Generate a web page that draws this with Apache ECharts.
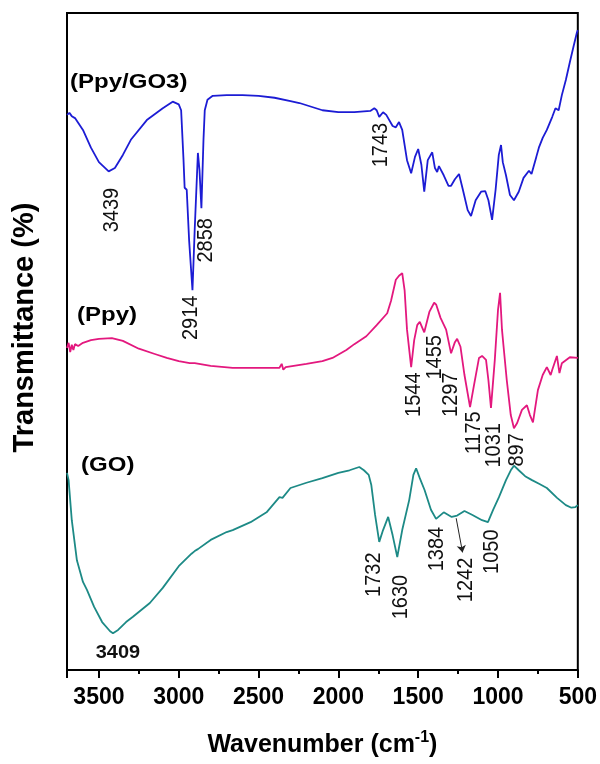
<!DOCTYPE html>
<html>
<head>
<meta charset="utf-8">
<title>FTIR</title>
<script src="https://cdn.jsdelivr.net/npm/echarts@6/dist/echarts.min.js"></script>
<style>
html,body{margin:0;padding:0;background:#fff;}
#chart{width:600px;height:764px;}
</style>
</head>
<body>
<div id="chart"></div>
<script>
// x ticks
var xTicks = [3500, 3000, 2500, 2000, 1500, 1000, 500];

// (Ppy/GO3)
var wnGO3 = [3700,3685,3670,3650,3600,3550,3500,3439,3400,3350,3300,3200,3100,3038,3000,2985,2970,2963,2950,2935,2914,2900,2880,2870,2858,2845,2837,2820,2787,2700,2600,2500,2400,2300,2244,2100,2000,1900,1800,1775,1760,1744,1720,1700,1660,1640,1620,1600,1570,1544,1520,1500,1480,1462,1440,1412,1395,1381,1370,1340,1310,1294,1270,1244,1220,1190,1169,1140,1106,1080,1060,1037,1015,995,981,970,962,950,925,900,870,840,806,790,760,744,720,694,660,640,631,620,600,575,550,525,506,500];
var tGO3 = [84.5,84.8,84.3,84.0,82.2,79.5,77.3,75.9,76.4,78.4,80.7,83.7,85.5,86.5,86.1,85.2,77.6,73.4,73.1,65.4,57.8,67.0,78.7,76.1,70.3,80.7,85.2,86.8,87.4,87.5,87.5,87.4,87.1,86.6,86.3,85.2,84.9,84.9,85.1,85.5,85.2,84.2,84.9,84.5,82.8,82.6,83.4,82.2,77.6,75.6,78.1,79.3,76.9,72.8,77.6,78.8,76.4,75.8,76.7,75.3,73.7,73.7,74.7,75.5,73.1,70.0,69.1,71.5,72.8,72.9,71.5,68.5,73.1,78.4,79.9,77.3,77.2,75.3,72.3,71.5,72.8,74.9,76.0,75.5,78.1,79.5,81.0,82.2,84.2,85.5,85.7,85.2,87.5,89.8,92.5,95.1,97.0,97.4];

// (Ppy)
var wnPpy = [3700,3690,3680,3670,3660,3650,3630,3600,3550,3500,3419,3350,3250,3150,3075,3000,2931,2920,2900,2800,2662,2500,2369,2355,2345,2330,2200,2100,2037,1950,1900,1825,1760,1694,1670,1640,1620,1600,1585,1570,1544,1525,1506,1490,1462,1430,1400,1387,1360,1325,1294,1270,1256,1235,1210,1175,1150,1119,1100,1075,1060,1044,1020,1000,987,975,965,945,920,900,880,850,819,800,781,750,720,694,670,660,631,615,600,550,500];
var tPpy = [49.0,49.8,48.4,49.5,48.7,49.6,49.3,49.8,50.2,50.4,50.5,50.1,48.9,48.1,47.5,47.0,46.7,47.0,46.7,46.3,46.0,46.0,46.0,46.6,45.7,46.1,46.6,47.0,47.5,48.7,49.6,50.8,52.5,54.3,56.2,59.4,60.0,60.4,57.8,51.8,46.1,50.2,52.5,53.0,51.4,54.5,55.9,55.6,53.6,51.8,48.2,49.9,50.4,49.2,44.9,40.0,43.4,47.5,47.8,47.2,44.1,39.9,47.2,54.8,57.4,51.8,49.2,44.1,38.8,36.8,37.6,39.6,40.3,38.8,37.7,42.6,44.9,46.1,44.9,45.7,47.8,45.2,46.7,47.6,47.5];

// (GO)
var wnGO = [3700,3690,3670,3638,3600,3575,3530,3480,3430,3412,3380,3330,3287,3181,3100,3000,2920,2900,2880,2869,2800,2700,2662,2550,2450,2369,2350,2300,2200,2100,2000,1930,1869,1840,1810,1794,1770,1744,1720,1688,1660,1631,1600,1556,1530,1513,1490,1460,1420,1388,1340,1290,1256,1210,1160,1100,1063,1030,994,950,920,900,870,830,787,740,694,630,575,540,515,500];
var tGO = [30.0,28.9,22.8,16.7,13.4,12.2,9.6,7.3,5.9,5.6,6.1,7.3,8.1,10.2,12.5,15.8,17.7,18.1,18.4,18.6,19.8,21.0,21.3,22.5,24.0,26.3,26.2,27.7,28.5,29.2,30.0,30.4,30.9,30.4,29.7,28.2,23.6,19.5,21.3,23.3,20.5,17.2,21.3,25.9,29.7,30.7,29.2,27.4,24.4,23.0,24.0,23.3,23.5,24.2,23.6,22.8,22.5,24.4,26.3,28.9,30.4,31.1,30.4,29.5,28.9,28.3,27.7,26.2,25.1,24.7,24.8,25.1];

// peak labels (rotated), anchor = label centre
var peakText = ['3439','2914','2858','1743','1544','1455','1297','1175','1031','897','1732','1630','1384','1242','1050'];
var peakWn   = [3418,2925,2831,1731,1525,1394,1294,1150,1025,881,1775,1606,1381,1200,1037];
var peakT    = [70.0,53.6,65.4,79.9,41.9,47.6,41.9,36.1,34.2,33.5,14.5,11.1,18.4,13.7,18.0];

// sample names, anchor = left/middle
var nameText = ['(Ppy/GO3)','(Ppy)','(GO)'];
var nameWn   = [3681,3637,3612];
var nameT    = [89.5,54.0,31.2];

function pairs(xs, ys){
	var out = [];
	for(var i=0;i<xs.length;i++){
		out.push([xs[i], ys[i]]);
	}
	return out;
}

var myChart = echarts.init(document.getElementById('chart'));
var font = 'Liberation Sans, Arial, sans-serif';

myChart.setOption({
	animation:false,
	grid:{
		left:67, right:21, top:13, bottom:94,
		show:true, borderColor:'#000', borderWidth:2
	},
	xAxis:[{
		type:'value', min:500, max:3700, interval:500, inverse:true,
		splitLine:{show:false},
		axisLine:{lineStyle:{color:'#000', width:2}},
		axisTick:{show:true, inside:false, length:8, lineStyle:{color:'#000', width:2}},
		axisLabel:{
			margin:16, color:'#000', fontSize:23, fontWeight:'bold', fontFamily:font,
			formatter:function(v){ return xTicks.indexOf(v) > -1 ? v : ''; }
		},
		name:'{a|Wavenumber (cm}{s|-1}{a|)}',
		nameLocation:'middle', nameGap:60,
		nameTextStyle:{
			rich:{
				a:{fontSize:25, fontWeight:'bold', color:'#000', fontFamily:font},
				s:{fontSize:16, fontWeight:'bold', color:'#000', fontFamily:font, padding:[0,0,14,0]}
			}
		}
	},{
		// minor ticks
		type:'value', min:500, max:3700, interval:250, inverse:true, position:'bottom',
		splitLine:{show:false}, axisLine:{show:false}, axisLabel:{show:false},
		axisTick:{show:true, length:4, lineStyle:{color:'#000', width:2}}
	}],
	yAxis:{
		type:'value', min:0, max:100,
		splitLine:{show:false},
		axisLine:{show:true, lineStyle:{color:'#000', width:2}},
		axisTick:{show:false}, axisLabel:{show:false},
		name:'Transmittance (%)', nameLocation:'middle', nameGap:28, nameRotate:90,
		nameTextStyle:{fontSize:29, fontWeight:'bold', color:'#000', fontFamily:font, padding:[0,0,0,28]}
	},
	series:[{
		name:'(Ppy/GO3)', type:'line', showSymbol:false, symbol:'none',
		lineStyle:{color:'#1c1cd4', width:1.8},
		data:pairs(wnGO3, tGO3)
	},{
		name:'(Ppy)', type:'line', showSymbol:false, symbol:'none',
		lineStyle:{color:'#e3187e', width:1.8},
		data:pairs(wnPpy, tPpy)
	},{
		name:'(GO)', type:'line', showSymbol:false, symbol:'none',
		lineStyle:{color:'#1d8a86', width:1.8},
		data:pairs(wnGO, tGO),
		markLine:{
			silent:true, symbol:['none','arrow'], symbolSize:7,
			label:{show:false},
			lineStyle:{color:'#222', width:1, type:'solid'},
			data:[[{coord:[1262,23.1]},{coord:[1222,17.9]}]]
		}
	}]
});

// text annotations placed through the axes
var g = [];
for(var i=0;i<peakText.length;i++){
	var p = myChart.convertToPixel({xAxisIndex:0, yAxisIndex:0}, [peakWn[i], peakT[i]]);
	g.push({
		type:'text', x:p[0], y:p[1], rotation:Math.PI/2, scaleY:1.1,
		style:{text:peakText[i], align:'center', verticalAlign:'middle',
			fontSize:20, fontFamily:font, fill:'#111'}
	});
}
for(var j=0;j<nameText.length;j++){
	var q = myChart.convertToPixel({xAxisIndex:0, yAxisIndex:0}, [nameWn[j], nameT[j]]);
	g.push({
		type:'text', x:q[0], y:q[1], scaleX:1.2,
		style:{text:nameText[j], align:'left', verticalAlign:'middle',
			fontSize:20, fontWeight:'bold', fontFamily:font, fill:'#000'}
	});
}
var r = myChart.convertToPixel({xAxisIndex:0, yAxisIndex:0}, [3381, 2.6]);
g.push({
	type:'text', x:r[0], y:r[1], scaleX:1.05,
	style:{text:'3409', align:'center', verticalAlign:'middle',
		fontSize:19, fontWeight:'bold', fontFamily:font, fill:'#111'}
});
myChart.setOption({graphic:g});
</script>
</body>
</html>
